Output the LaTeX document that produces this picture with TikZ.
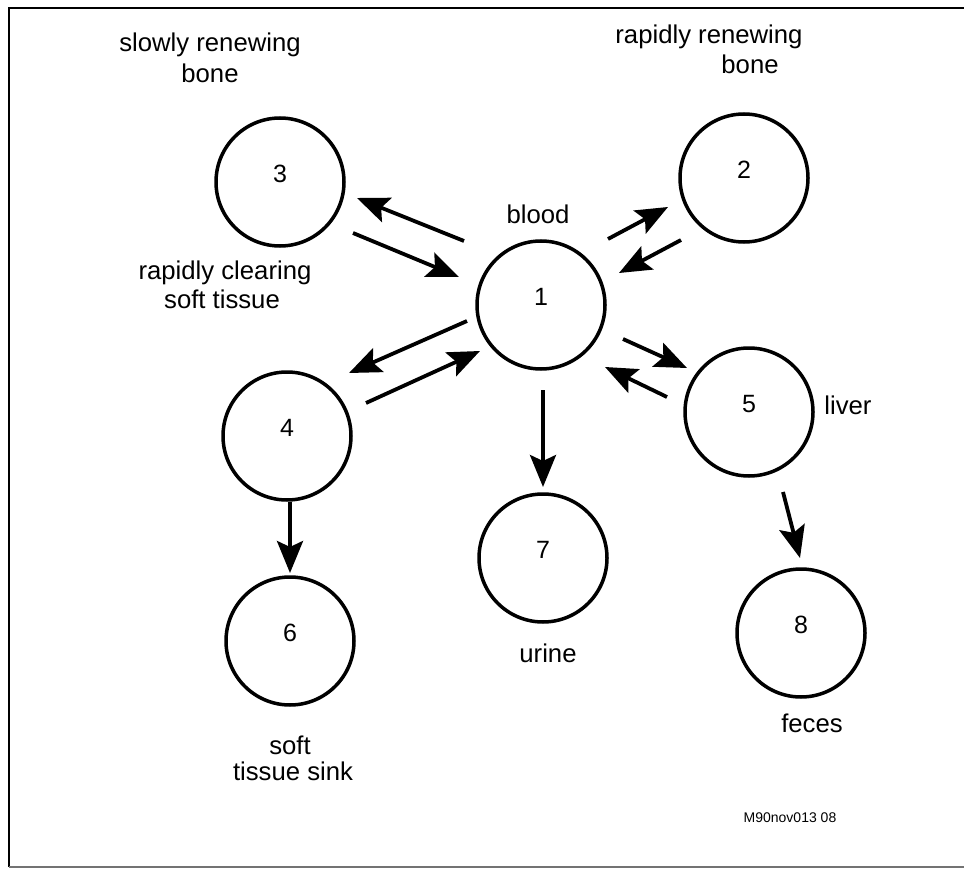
\documentclass[tikz,border=0pt]{standalone}
\usepackage{fontspec}
\setmainfont{Liberation Sans}
\usetikzlibrary{arrows.meta}
\begin{document}
\begin{tikzpicture}[x=1pt,y=-1pt,
  comp/.style={circle, draw, line width=3.5pt, minimum size=128pt, inner sep=0pt},
  num/.style={font=\fontsize{25}{26}\selectfont, inner sep=0pt},
  lbl/.style={font=\fontsize{25.7}{28}\selectfont, inner sep=0pt},
  tag/.style={font=\fontsize{14}{15}\selectfont, inner sep=0pt},
  flow/.style={line width=3.8pt, -{Stealth[length=32pt,width=26pt,inset=6pt]}},
  frame/.style={line width=2pt}
]
\useasboundingbox (0,0) rectangle (964,869);
\draw[frame] (964,8) -- (9,8) -- (9,867);
\draw[frame, black!55] (9,867) -- (964,867);

% compartments
\node[comp, label={[num,yshift=8pt]center:1}] (c1) at (541,305) {};
\node[comp, label={[num,yshift=8pt]center:2}] (c2) at (744,178) {};
\node[comp, label={[num,yshift=8pt]center:3}] (c3) at (280,182) {};
\node[comp, label={[num,yshift=8pt]center:4}] (c4) at (287,436) {};
\node[comp, label={[num,yshift=8pt]center:5}] (c5) at (749,412) {};
\node[comp, label={[num,yshift=8pt]center:6}] (c6) at (290,641) {};
\node[comp, label={[num,yshift=8pt]center:7}] (c7) at (543,558) {};
\node[comp, label={[num,yshift=8pt]center:8}] (c8) at (801,633) {};

% labels
\node[lbl] (t3a) at (210,45) {slowly renewing};
\node[lbl] (t3b) at (210,73) {bone};
\node[lbl] (t2a) at (709,37) {rapidly renewing};
\node[lbl] (t2b) at (750,64) {bone};
\node[lbl] (t1) at (538,214) {blood};
\node[lbl] (t4a) at (225,273) {rapidly clearing};
\node[lbl] (t4b) at (222,299) {soft tissue};
\node[lbl] (t5) at (848,405) {liver};
\node[lbl] (t7) at (548,653) {urine};
\node[lbl] (t6a) at (290,745) {soft};
\node[lbl] (t6b) at (293,771) {tissue sink};
\node[lbl] (t8) at (812,723) {feces};
\node[tag] (id) at (790,818) {M90nov013 08};

% arrow end points
\coordinate (p13a) at (464,241); \coordinate (p13b) at (357,198);
\coordinate (p31a) at (353,233); \coordinate (p31b) at (459,277);
\coordinate (p12a) at (608,239); \coordinate (p12b) at (668,207);
\coordinate (p21a) at (681,240); \coordinate (p21b) at (619,273);
\coordinate (p14a) at (467,321); \coordinate (p14b) at (349,373);
\coordinate (p41a) at (366,403); \coordinate (p41b) at (480,351);
\coordinate (p15a) at (623,339); \coordinate (p15b) at (687,368);
\coordinate (p51a) at (667,397); \coordinate (p51b) at (605,367);
\coordinate (p17a) at (543,390); \coordinate (p17b) at (543,487);
\coordinate (p46a) at (290,502); \coordinate (p46b) at (290,573);
\coordinate (p58a) at (783,492); \coordinate (p58b) at (800,558);

\draw[flow] (p13a) -- (p13b);
\draw[flow] (p31a) -- (p31b);
\draw[flow] (p12a) -- (p12b);
\draw[flow] (p21a) -- (p21b);
\draw[flow] (p14a) -- (p14b);
\draw[flow] (p41a) -- (p41b);
\draw[flow] (p15a) -- (p15b);
\draw[flow] (p51a) -- (p51b);
\draw[flow] (p17a) -- (p17b);
\draw[flow] (p46a) -- (p46b);
\draw[flow] (p58a) -- (p58b);
\end{tikzpicture}
\end{document}
